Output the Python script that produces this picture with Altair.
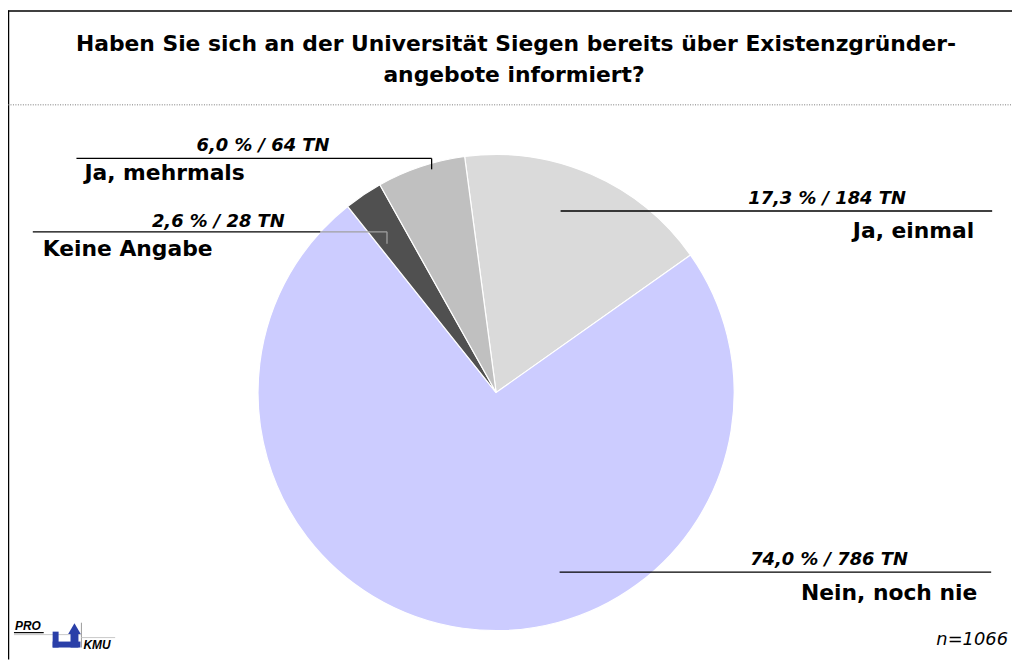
import math
import altair as alt
import pandas as pd

# ---- data ----
categories = ["Ja, einmal", "Nein, noch nie", "Keine Angabe", "Ja, mehrmals"]
percent = [17.3, 74.0, 2.6, 6.0]
counts = [184, 786, 28, 64]
colors = ["#DADADA", "#CCCCFF", "#505050", "#C0C0C0"]
title_lines = ["Haben Sie sich an der Universität Siegen bereits über Existenzgründer-",
               "angebote informiert?"]
n_text = "n=1066"

W, H = 1012, 654
CX, CY, R = 492, 385, 240
start = 2 * math.pi - 0.1326

pie_df = pd.DataFrame({"cat": categories, "pct": percent, "n": counts,
                       "idx": list(range(len(categories)))})

pie = alt.Chart(pie_df).mark_arc(radius=R, stroke="white", strokeWidth=1.2).encode(
    theta=alt.Theta("pct:Q", stack=True, scale=alt.Scale(range=[start, start + 2 * math.pi])),
    color=alt.Color("cat:N", scale=alt.Scale(domain=categories, range=colors), legend=None),
    order=alt.Order("idx:Q"),
    x=alt.value(CX), y=alt.value(CY),
)

layers = []


def text(s, x, y, size=18, weight="bold", style="normal", align="left", color="black",
         font="DejaVu Sans", baseline="alphabetic"):
    return alt.Chart(pd.DataFrame({"t": [s]})).mark_text(
        font=font, fontSize=size, fontWeight=weight, fontStyle=style, align=align,
        baseline=baseline, color=color,
    ).encode(text="t:N", x=alt.value(x), y=alt.value(y))


def hline(x1, x2, y, color="black", width=1.3, dash=None):
    kw = dict(color=color, strokeWidth=width)
    if dash:
        kw["strokeDash"] = dash
    return alt.Chart(pd.DataFrame({"a": [0]})).mark_rule(**kw).encode(
        x=alt.value(x1), x2=alt.value(x2), y=alt.value(y))


def vline(x, y1, y2, color="black", width=1.3):
    return alt.Chart(pd.DataFrame({"a": [0]})).mark_rule(color=color, strokeWidth=width).encode(
        x=alt.value(x), y=alt.value(y1), y2=alt.value(y2))


def fmt(p, n):
    return f"{p:.1f}".replace(".", ",") + f" % / {n} TN"


# frame and separator
layers.append(vline(0.5, 0, H, width=1.5))
layers.append(hline(0, W, 0.5, width=1.5))
layers.append(hline(0, W, 95, color="#777777", width=1, dash=[1, 1.5]))

# title
layers.append(text(title_lines[0], 512, 41, size=22, align="center"))
layers.append(text(title_lines[1], 510, 72, size=22, align="center"))

# leader lines (page coords - 8)
# Ja, mehrmals
layers.append(hline(69, 427, 149))
layers.append(vline(427, 149, 160))
# Keine Angabe
layers.append(hline(25, 315, 223))
layers.append(hline(315, 382, 223, color="#A0A0A0"))
layers.append(vline(382, 223, 235, color="#A0A0A0"))
# Ja, einmal
layers.append(hline(557, 992, 202))
# Nein, noch nie
layers.append(hline(556, 991, 566))

pie_layers = [pie]

# labels
labels = [
    (fmt(percent[3], counts[3]), 257, 142, "center"),
    (fmt(percent[2], counts[2]), 212, 218, "center"),
    (fmt(percent[0], counts[0]), 905, 195, "right"),
    (fmt(percent[1], counts[1]), 907, 559, "right"),
]
for s, x, y, a in labels:
    layers.append(text(s, x, y, size=18, style="italic", align=a))

names = [
    (categories[3], 77, 171, "left"),
    (categories[2], 35, 247, "left"),
    (categories[0], 974, 229, "right"),
    (categories[1], 977, 594, "right"),
]
for s, x, y, a in names:
    layers.append(text(s, x, y, size=22, align=a))

layers.append(text(n_text, 1008, 639, size=18, weight="normal", style="italic", align="right"))

# logo PRO / KMU
layers.append(text("PRO", 7, 624, size=12, style="italic", font="Liberation Sans"))
layers.append(hline(6, 36, 627, width=1.2))
layers.append(hline(6, 74, 629, color="#C8C8C8", width=1))
layers.append(vline(74, 617, 642, color="#9A9A9A", width=1))
layers.append(hline(74, 108, 632, color="#C8C8C8", width=1))
logo_blue = "#2A3FA8"
layers.append(alt.Chart(pd.DataFrame({"a": [0]})).mark_rect(color=logo_blue).encode(
    x=alt.value(45), x2=alt.value(51), y=alt.value(626), y2=alt.value(642)))
layers.append(alt.Chart(pd.DataFrame({"a": [0]})).mark_rect(color=logo_blue).encode(
    x=alt.value(45), x2=alt.value(73), y=alt.value(636), y2=alt.value(642)))
layers.append(alt.Chart(pd.DataFrame({"a": [0]})).mark_rect(color=logo_blue).encode(
    x=alt.value(63), x2=alt.value(71), y=alt.value(626), y2=alt.value(642)))
layers.append(alt.Chart(pd.DataFrame({"a": [0]})).mark_point(
    shape="triangle-up", filled=True, color=logo_blue, size=160, opacity=1).encode(
    x=alt.value(67), y=alt.value(623)))
layers.append(text("KMU", 76, 644, size=12, style="italic", font="Liberation Sans"))

chart = alt.layer(*pie_layers, *layers).properties(
    width=W, height=H, padding=0, autosize=alt.AutoSizeParams(type="none"),
    background="white",
).configure_view(stroke=None)

chart.save("out.html", embed_options={"renderer": "svg", "actions": False})
